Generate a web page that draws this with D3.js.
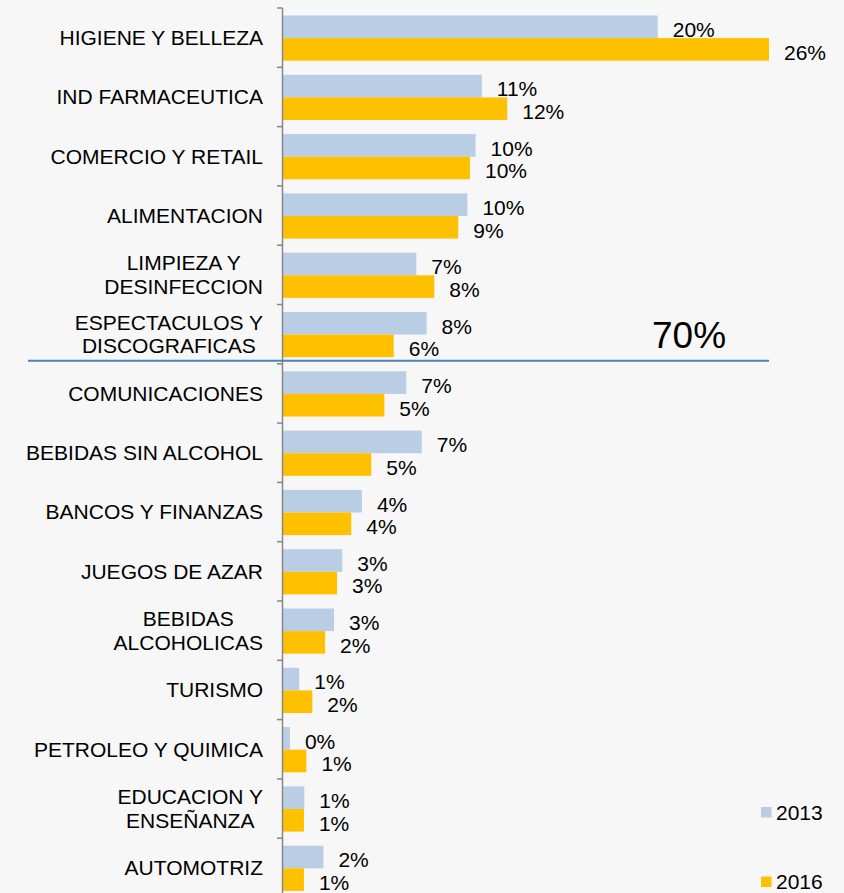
<!DOCTYPE html>
<html>
<head>
<meta charset="utf-8">
<script src="https://cdn.jsdelivr.net/npm/d3@7"></script>
<style>
  body { margin: 0; background: #f7f7f7; }
  text { font-family: "Liberation Sans", Arial, sans-serif; fill: #000; }
</style>
</head>
<body>
<div id="chart"></div>
<script>
// Categories (label lines) and share values per year
const categories = [
  ["HIGIENE Y BELLEZA"],
  ["IND FARMACEUTICA"],
  ["COMERCIO Y RETAIL"],
  ["ALIMENTACION"],
  ["LIMPIEZA Y", "DESINFECCION"],
  ["ESPECTACULOS Y", "DISCOGRAFICAS"],
  ["COMUNICACIONES"],
  ["BEBIDAS SIN ALCOHOL"],
  ["BANCOS Y FINANZAS"],
  ["JUEGOS DE AZAR"],
  ["BEBIDAS", "ALCOHOLICAS"],
  ["TURISMO"],
  ["PETROLEO Y QUIMICA"],
  ["EDUCACION Y", "ENSEÑANZA"],
  ["AUTOMOTRIZ"]
];
const years = ["2013", "2016"];
const values2013 = [0.2004, 0.1063, 0.1030, 0.0986, 0.0713, 0.0768, 0.0659, 0.0742, 0.0422, 0.0317, 0.0273, 0.0087, 0.0037, 0.0114, 0.0216];
const values2016 = [0.2599, 0.1199, 0.1000, 0.0937, 0.0809, 0.0592, 0.0542, 0.0472, 0.0365, 0.0289, 0.0225, 0.0157, 0.0125, 0.0112, 0.0112];
const topShareLabel = "70%";
const topGroupSize = 6;

const colors = { "2013": "#b9cde5", "2016": "#ffc000" };

const W = 844, H = 893;
const svg = d3.select("#chart").append("svg")
  .attr("width", W).attr("height", H);

const keys = categories.map(d => d.join(" "));

// Scales
const x = d3.scaleLinear().domain([0, 0.30]).range([283, 844]);
const y = d3.scaleBand().domain(keys).range([8, 8 + 59.3 * keys.length]).padding(0);
const inner = d3.scaleBand().domain(years).range([7.5, 7.5 + 45.2]);

// Bars
const rows = keys.map((k, i) => ({ key: k, lines: categories[i], v: { "2013": values2013[i], "2016": values2016[i] } }));
const fmt = d3.format(".0%");

const group = svg.append("g").selectAll("g")
  .data(rows).join("g")
  .attr("transform", d => `translate(0,${y(d.key)})`);

group.selectAll("rect")
  .data(d => years.map(yr => ({ yr, v: d.v[yr] })))
  .join("rect")
  .attr("x", x(0))
  .attr("y", d => inner(d.yr))
  .attr("width", d => x(d.v) - x(0))
  .attr("height", inner.bandwidth())
  .attr("fill", d => colors[d.yr]);

group.selectAll("text.val")
  .data(d => years.map(yr => ({ yr, v: d.v[yr] })))
  .join("text")
  .attr("class", "val")
  .attr("x", d => x(d.v) + 15)
  .attr("y", d => inner(d.yr) + inner.bandwidth() / 2 + 3)
  .attr("dy", "0.35em")
  .style("font-size", "21px")
  .text(d => fmt(d.v));

// Axis (vertical line with ticks at band edges)
const axis = svg.append("g");
axis.append("line")
  .attr("x1", 282.5).attr("x2", 282.5)
  .attr("y1", y.range()[0]).attr("y2", y.range()[1])
  .attr("stroke", "#868686").attr("stroke-width", 1.5);
axis.selectAll("line.tick")
  .data(keys.map(k => y(k)).concat([y.range()[1]]))
  .join("line")
  .attr("class", "tick")
  .attr("x1", 277).attr("x2", 282.5)
  .attr("y1", d => d).attr("y2", d => d)
  .attr("stroke", "#868686").attr("stroke-width", 1.5);

// Category labels, multi-line ones centered on their widest line
const labels = svg.append("g");
rows.forEach(d => {
  const cy = y(d.key) + y.bandwidth() / 2;
  const lh = 23.5;
  const t = labels.append("text")
    .style("font-size", "21px")
    .attr("text-anchor", d.lines.length > 1 ? "middle" : "end");
  const spans = d.lines.map((ln, j) => t.append("tspan")
    .attr("y", cy + (j - (d.lines.length - 1) / 2) * lh)
    .attr("dy", "0.35em")
    .text(ln));
  if (d.lines.length > 1) {
    const maxW = d3.max(spans, s => s.node().getComputedTextLength());
    spans.forEach(s => s.attr("x", 263 - maxW / 2));
  } else {
    spans.forEach(s => s.attr("x", 263));
  }
});

// Separator between top group and the rest
const sepY = y(keys[topGroupSize]) - 3;
svg.append("line")
  .attr("x1", 28).attr("x2", x(0.2599))
  .attr("y1", sepY).attr("y2", sepY)
  .attr("stroke", "#4f81bd").attr("stroke-width", 2);
svg.append("text")
  .attr("x", 652).attr("y", sepY - 13)
  .style("font-size", "37px")
  .text(topShareLabel);

// Legend
const legend = svg.append("g").selectAll("g")
  .data(years).join("g")
  .attr("transform", (d, i) => `translate(761,${807 + i * 69.5})`);
legend.append("rect")
  .attr("width", 10.5).attr("height", 10.5)
  .attr("fill", d => colors[d]);
legend.append("text")
  .attr("x", 15).attr("y", 5.5).attr("dy", "0.35em")
  .style("font-size", "21px")
  .text(d => d);
</script>
</body>
</html>
